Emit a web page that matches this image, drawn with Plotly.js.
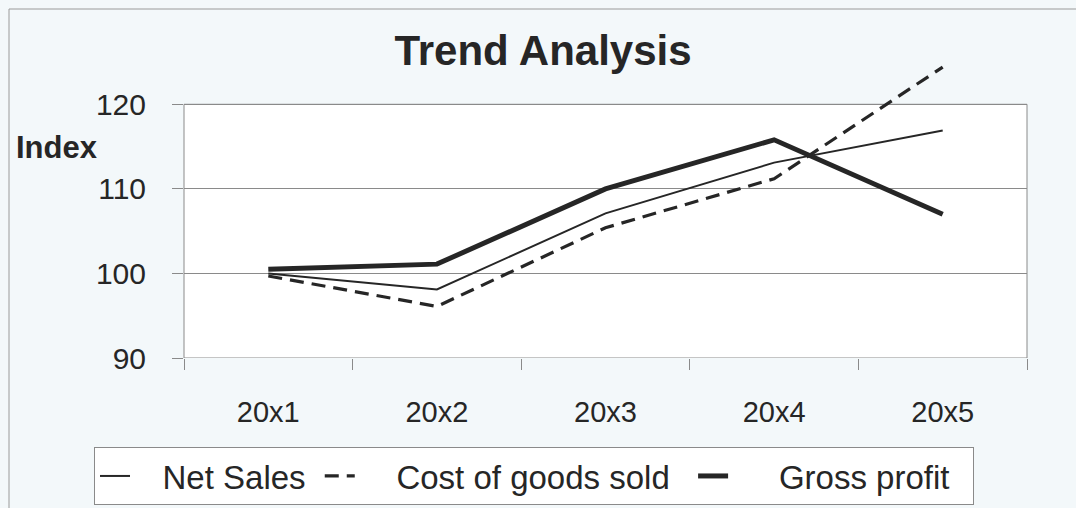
<!DOCTYPE html>
<html>
<head>
<meta charset="utf-8">
<script src="https://cdn.plot.ly/plotly-3.0.1.min.js"></script>
<style>html,body{margin:0;padding:0;background:#f3f8fa;}#chart{width:1076px;height:508px;}</style>
</head>
<body>
<div id="chart"></div>
<script>
var years = ["20x1", "20x2", "20x3", "20x4", "20x5"];
var netSales = [100, 98.1, 107.1, 113.1, 116.9];
var costOfGoodsSold = [99.7, 96.1, 105.4, 111.2, 124.4];
var grossProfit = [100.5, 101.1, 110, 115.8, 107];
var yTicks = [90, 100, 110, 120];
var seriesNames = ["Net Sales", "Cost of goods sold", "Gross profit"];

var ink = "#262626";
var nb = "\u00a0";
function pad(s, lead, trail) { return nb.repeat(lead) + s + nb.repeat(trail); }

var traces = [
  {x: years, y: netSales, name: pad(seriesNames[0], 3, 1), type: "scatter", mode: "lines",
   line: {color: ink, width: 2}},
  {x: years, y: costOfGoodsSold, name: pad(seriesNames[1], 4, 2), type: "scatter", mode: "lines",
   line: {color: ink, width: 3.2, dash: "14px,8px"}},
  {x: years, y: grossProfit, name: pad(seriesNames[2], 5, 2), type: "scatter", mode: "lines",
   line: {color: ink, width: 5}}
];

var font = "Liberation Sans, Arial, sans-serif";
var layout = {
  width: 1076, height: 508,
  margin: {l: 184, r: 49, t: 62, b: 150, pad: 0, autoexpand: false},
  paper_bgcolor: "#f3f8fa",
  plot_bgcolor: "rgba(0,0,0,0)",
  font: {family: font, color: ink},
  showlegend: true,
  title: {text: "<b>Trend Analysis</b>", font: {family: font, size: 42, color: ink},
          x: 543/1076, xref: "container", xanchor: "center",
          y: 1 - 50/508, yref: "container", yanchor: "middle"},
  xaxis: {type: "category", tickson: "boundaries", ticks: "outside", ticklen: 11,
          tickcolor: "#8a8a8a", tickwidth: 1, showgrid: false, showline: false, zeroline: false,
          tickfont: {size: 29, color: ink}, ticklabelstandoff: 34, range: [-0.5, 4.5]},
  yaxis: {range: [90, 125], tickvals: yTicks, ticktext: yTicks.map(String),
          ticks: "outside", ticklen: 11, tickcolor: "#8a8a8a", showgrid: true,
          gridcolor: "#8a8a8a", gridwidth: 1, showline: false, zeroline: false,
          tickfont: {size: 30, color: ink}, ticklabelstandoff: 20},
  legend: {orientation: "h", xref: "paper", yref: "paper",
           x: (94-184)/843, xanchor: "left", y: (358-447)/296, yanchor: "top",
           bgcolor: "#ffffff", bordercolor: "#8a8a8a", borderwidth: 1,
           font: {size: 33, color: ink}},
  shapes: [
    {type: "rect", xref: "x domain", yref: "y", x0: 0, x1: 1, y0: 90, y1: 120,
     fillcolor: "#ffffff", line: {width: 0}, layer: "below"},
    {type: "rect", xref: "x domain", yref: "y", x0: 0, x1: 1, y0: 90, y1: 120,
     line: {color: "#8a8a8a", width: 1}, layer: "below"},
    {type: "line", xref: "paper", yref: "paper", x0: (9-184)/843, x1: (1076-184)/843,
     y0: (358-9)/296, y1: (358-9)/296, line: {color: "#9a9a9a", width: 1}},
    {type: "line", xref: "paper", yref: "paper", x0: (9-184)/843, x1: (9-184)/843,
     y0: (358-9)/296, y1: (358-508)/296, line: {color: "#9a9a9a", width: 1}}
  ],
  annotations: [
    {text: "<b>Index</b>", xref: "paper", yref: "paper", x: (14-184)/843, xanchor: "left",
     y: (358-147)/296, yanchor: "middle", showarrow: false, font: {size: 31, color: ink}}
  ]
};

Plotly.newPlot("chart", traces, layout, {displayModeBar: false, staticPlot: true});
</script>
</body>
</html>
